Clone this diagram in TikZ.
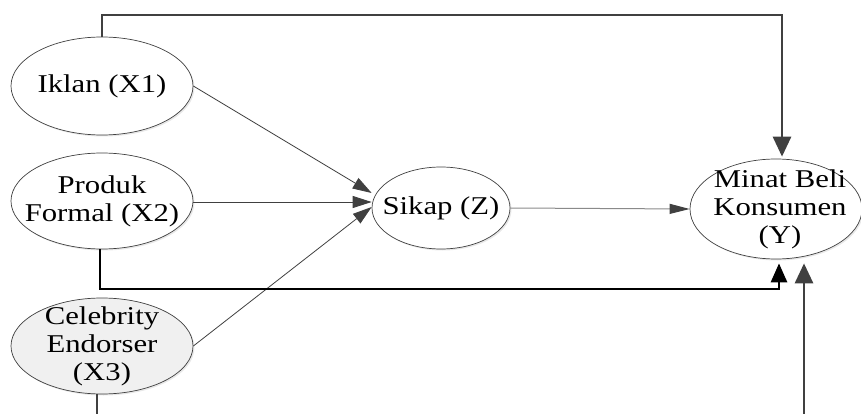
\documentclass[tikz,border=0pt]{standalone}
\usepackage{fontspec}
\setmainfont[FakeStretch=1.2]{Liberation Serif}
\usetikzlibrary{arrows.meta,shapes.geometric,shadows}
\definecolor{dgray}{HTML}{404040}
\definecolor{mgray}{HTML}{8A8A8A}
\definecolor{lfill}{HTML}{F0F0F0}
\tikzset{
  var/.style={ellipse, draw=dgray, line width=0.7pt, fill=white, inner sep=0pt,
    drop shadow={fill=black!18, shadow xshift=1.5pt, shadow yshift=-1.5pt}},
  txt/.style={align=center, font=\fontsize{25.6}{28}\selectfont, inner sep=0pt},
  thinarrow/.style={draw=dgray, line width=0.8pt, -{Triangle[length=19pt,width=12pt]}},
  lightarrow/.style={draw=mgray, line width=1pt, -{Triangle[length=20pt,width=10pt,color=dgray]}},
  biggray/.style={draw=dgray, line width=2.8pt, -{Triangle[length=20pt,width=18pt]}},
  bigblack/.style={draw=black, line width=2.8pt, -{Triangle[length=19pt,width=16pt]}}
}
\begin{document}
\begin{tikzpicture}[x=1pt,y=-1pt]
\useasboundingbox (0,0) rectangle (861,414);
\node[var, minimum width=182pt, minimum height=98pt,
  label={[txt]center:Iklan (X1)}] (iklan) at (102,86) {};
\node[var, minimum width=182pt, minimum height=96pt,
  label={[txt]center:Produk\\Formal (X2)}] (produk) at (102,201) {};
\node[var, fill=lfill, minimum width=182pt, minimum height=96pt,
  label={[txt]center:Celebrity\\Endorser\\(X3)}] (celeb) at (102,346) {};
\node[var, minimum width=138pt, minimum height=82pt,
  label={[txt]center:Sikap (Z)}] (sikap) at (441,208) {};
\node[var, minimum width=172pt, minimum height=100pt,
  label={[txt, xshift=4pt]center:Minat Beli\\Konsumen\\(Y)}] (yy) at (776,209) {};
\coordinate (topc) at (102,15);
\coordinate (lowc) at (100,289);
\coordinate (botl) at (97,440);
\coordinate (botr) at (804,440);
% into Sikap
\draw[thinarrow] (iklan.east) -- ([yshift=15pt]sikap.west);
\draw[thinarrow] ([yshift=-1pt]produk.east) -- ([yshift=6pt]sikap.west);
\draw[thinarrow] (celeb.east) -- ([yshift=1pt]sikap.west);
% Sikap to Y
\draw[lightarrow] (sikap.east) -- (yy.west);
% direct paths
\draw[biggray, line join=miter] (iklan.north) -- (topc) -| ([xshift=6pt,yshift=2pt]yy.north);
\draw[bigblack, line join=miter] ([xshift=-2pt]produk.south) -- (lowc) -| ([xshift=3pt,yshift=-4pt]yy.south);
\draw[biggray, line join=miter] ([xshift=-5pt]celeb.south) -- (botl) -- (botr) -- ([xshift=28pt,yshift=-4pt]yy.south);
\end{tikzpicture}
\end{document}
